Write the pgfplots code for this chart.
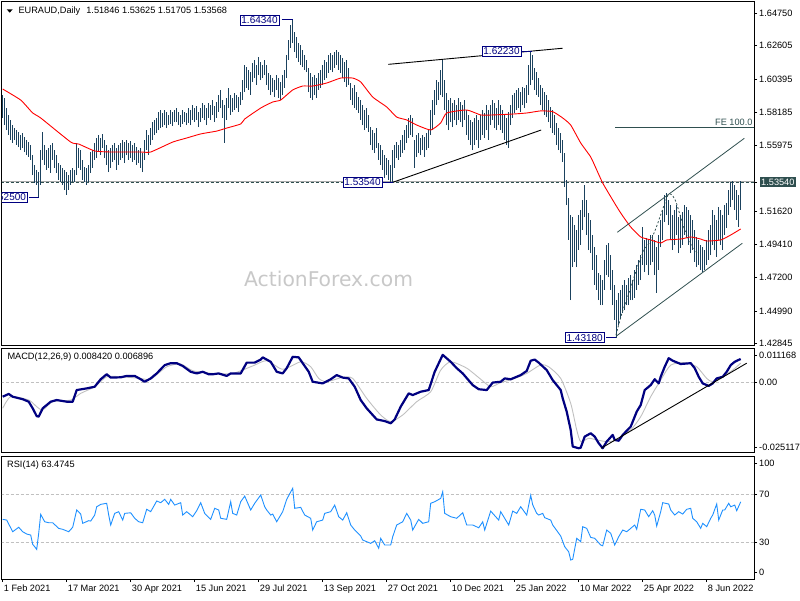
\documentclass[border=0pt]{standalone}
\usepackage{pgfplots}
\pgfplotsset{compat=1.18}
\usepackage{pgfplotstable}
\usepackage{fontspec}
\setmainfont{Liberation Sans}
\newfontfamily\dejavu{DejaVu Sans}
\definecolor{barc}{RGB}{27,66,94}
\definecolor{dslate}{RGB}{47,79,79}
\definecolor{navyc}{RGB}{0,0,128}
\definecolor{silverc}{RGB}{192,192,192}
\definecolor{rsic}{RGB}{30,144,255}
\definecolor{wm}{RGB}{200,200,200}
\definecolor{bidc}{RGB}{170,170,170}

\pgfplotstableread{
i h l
0 1.5933 1.5780
1 1.5913 1.5733
2 1.5846 1.5700
3 1.5800 1.5667
4 1.5767 1.5634
5 1.5733 1.5614
6 1.5713 1.5634
7 1.5700 1.5601
8 1.5687 1.5587
9 1.5667 1.5567
10 1.5680 1.5581
11 1.5654 1.5554
12 1.5634 1.5534
13 1.5620 1.5521
14 1.5601 1.5501
15 1.5534 1.5401
16 1.5468 1.5348
17 1.5435 1.5335
18 1.5421 1.5250
19 1.5567 1.5335
20 1.5687 1.5501
21 1.5601 1.5468
22 1.5567 1.5435
23 1.5581 1.5448
24 1.5601 1.5415
25 1.5614 1.5501
26 1.5567 1.5448
27 1.5534 1.5415
28 1.5481 1.5368
29 1.5468 1.5355
30 1.5448 1.5335
31 1.5435 1.5302
32 1.5421 1.5269
33 1.5401 1.5302
34 1.5435 1.5335
35 1.5448 1.5355
36 1.5435 1.5355
37 1.5614 1.5401
38 1.5581 1.5448
39 1.5567 1.5435
40 1.5501 1.5368
41 1.5454 1.5355
42 1.5448 1.5335
43 1.5468 1.5355
44 1.5554 1.5415
45 1.5567 1.5448
46 1.5614 1.5501
47 1.5647 1.5514
48 1.5667 1.5554
49 1.5647 1.5534
50 1.5674 1.5581
51 1.5634 1.5514
52 1.5601 1.5468
53 1.5567 1.5421
54 1.5581 1.5448
55 1.5601 1.5488
56 1.5614 1.5501
57 1.5581 1.5435
58 1.5601 1.5468
59 1.5614 1.5501
60 1.5634 1.5514
61 1.5620 1.5481
62 1.5634 1.5534
63 1.5614 1.5501
64 1.5627 1.5514
65 1.5601 1.5488
66 1.5614 1.5501
67 1.5587 1.5468
68 1.5567 1.5481
69 1.5581 1.5448
70 1.5547 1.5421
71 1.5634 1.5501
72 1.5700 1.5567
73 1.5667 1.5534
74 1.5713 1.5601
75 1.5753 1.5634
76 1.5767 1.5667
77 1.5780 1.5680
78 1.5820 1.5700
79 1.5833 1.5713
80 1.5813 1.5720
81 1.5833 1.5733
82 1.5820 1.5713
83 1.5800 1.5733
84 1.5833 1.5740
85 1.5820 1.5727
86 1.5833 1.5753
87 1.5846 1.5753
88 1.5820 1.5733
89 1.5800 1.5720
90 1.5833 1.5740
91 1.5820 1.5753
92 1.5813 1.5733
93 1.5846 1.5747
94 1.5833 1.5733
95 1.5866 1.5767
96 1.5846 1.5753
97 1.5860 1.5767
98 1.5820 1.5720
99 1.5846 1.5753
100 1.5879 1.5780
101 1.5866 1.5767
102 1.5846 1.5733
103 1.5879 1.5780
104 1.5866 1.5767
105 1.5899 1.5800
106 1.5860 1.5753
107 1.5886 1.5780
108 1.5933 1.5820
109 1.5966 1.5846
110 1.5899 1.5780
111 1.5866 1.5614
112 1.5913 1.5767
113 1.5979 1.5846
114 1.5933 1.5800
115 1.5913 1.5820
116 1.5946 1.5833
117 1.5933 1.5846
118 1.5919 1.5820
119 1.5952 1.5866
120 1.6032 1.5899
121 1.6132 1.5952
122 1.6118 1.5979
123 1.6099 1.5966
124 1.6085 1.5933
125 1.6145 1.6019
126 1.6165 1.6045
127 1.6132 1.5999
128 1.6185 1.6065
129 1.6152 1.6032
130 1.6132 1.6045
131 1.6165 1.6065
132 1.6132 1.5999
133 1.6079 1.5966
134 1.6065 1.5933
135 1.6045 1.5952
136 1.6032 1.5919
137 1.6065 1.5966
138 1.6045 1.5913
139 1.6019 1.5899
140 1.6065 1.5933
141 1.6099 1.5979
142 1.6198 1.6045
143 1.6298 1.6165
144 1.6397 1.6245
145 1.6434 1.6278
146 1.6351 1.6218
147 1.6318 1.6178
148 1.6278 1.6152
149 1.6265 1.6132
150 1.6231 1.6118
151 1.6198 1.6099
152 1.6165 1.6085
153 1.6112 1.5952
154 1.6079 1.5913
155 1.6052 1.5899
156 1.6065 1.5933
157 1.6045 1.5913
158 1.6079 1.5966
159 1.6099 1.5979
160 1.6132 1.5999
161 1.6165 1.6032
162 1.6152 1.6045
163 1.6198 1.6079
164 1.6211 1.6099
165 1.6198 1.6085
166 1.6218 1.6112
167 1.6231 1.6132
168 1.6218 1.6099
169 1.6198 1.6079
170 1.6178 1.6045
171 1.6152 1.6019
172 1.6165 1.5986
173 1.6112 1.5999
174 1.6012 1.5899
175 1.5979 1.5866
176 1.5999 1.5846
177 1.5952 1.5833
178 1.5919 1.5813
179 1.5899 1.5767
180 1.5866 1.5733
181 1.5833 1.5700
182 1.5846 1.5713
183 1.5800 1.5687
184 1.5720 1.5601
185 1.5700 1.5567
186 1.5680 1.5547
187 1.5713 1.5581
188 1.5614 1.5501
189 1.5601 1.5468
190 1.5567 1.5435
191 1.5534 1.5381
192 1.5514 1.5401
193 1.5501 1.5368
194 1.5468 1.5354
195 1.5567 1.5354
196 1.5601 1.5448
197 1.5620 1.5514
198 1.5601 1.5501
199 1.5634 1.5521
200 1.5667 1.5547
201 1.5700 1.5567
202 1.5733 1.5614
203 1.5780 1.5647
204 1.5800 1.5667
205 1.5780 1.5654
206 1.5634 1.5448
207 1.5667 1.5521
208 1.5680 1.5547
209 1.5647 1.5534
210 1.5667 1.5567
211 1.5654 1.5521
212 1.5680 1.5567
213 1.5700 1.5581
214 1.5833 1.5667
215 1.5899 1.5700
216 1.5966 1.5800
217 1.6032 1.5866
218 1.6019 1.5899
219 1.6099 1.5933
220 1.6172 1.5919
221 1.6032 1.5833
222 1.5946 1.5733
223 1.5899 1.5700
224 1.5913 1.5753
225 1.5879 1.5720
226 1.5899 1.5767
227 1.5866 1.5733
228 1.5913 1.5767
229 1.5886 1.5753
230 1.5866 1.5720
231 1.5899 1.5767
232 1.5833 1.5667
233 1.5800 1.5634
234 1.5767 1.5601
235 1.5753 1.5567
236 1.5780 1.5601
237 1.5800 1.5634
238 1.5767 1.5581
239 1.5800 1.5634
240 1.5833 1.5667
241 1.5813 1.5647
242 1.5866 1.5700
243 1.5833 1.5634
244 1.5866 1.5733
245 1.5899 1.5767
246 1.5879 1.5713
247 1.5846 1.5700
248 1.5899 1.5733
249 1.5866 1.5700
250 1.5833 1.5680
251 1.5800 1.5634
252 1.5780 1.5601
253 1.5820 1.5581
254 1.5866 1.5733
255 1.5933 1.5780
256 1.5946 1.5813
257 1.5966 1.5833
258 1.5979 1.5846
259 1.5952 1.5820
260 1.5986 1.5866
261 1.5979 1.5846
262 1.5999 1.5879
263 1.6132 1.5933
264 1.6223 1.5999
265 1.6198 1.6032
266 1.6112 1.5966
267 1.6085 1.5933
268 1.6045 1.5919
269 1.5999 1.5866
270 1.5979 1.5833
271 1.5952 1.5800
272 1.5933 1.5786
273 1.5899 1.5753
274 1.5853 1.5713
275 1.5833 1.5680
276 1.5800 1.5667
277 1.5747 1.5601
278 1.5713 1.5567
279 1.5680 1.5547
280 1.5634 1.5488
281 1.5547 1.5322
282 1.5368 1.5202
283 1.5249 1.4970
284 1.5136 1.4571
285 1.5122 1.4790
286 1.5069 1.4824
287 1.5036 1.4790
288 1.5136 1.4903
289 1.5169 1.4937
290 1.5235 1.5036
291 1.5335 1.5122
292 1.5235 1.5003
293 1.5149 1.4903
294 1.5103 1.4883
295 1.5003 1.4771
296 1.4923 1.4671
297 1.4870 1.4638
298 1.4751 1.4571
299 1.4737 1.4538
300 1.4704 1.4538
301 1.4837 1.4638
302 1.4937 1.4737
303 1.4950 1.4724
304 1.4870 1.4638
305 1.4771 1.4538
306 1.4671 1.4439
307 1.4571 1.4318
308 1.4618 1.4405
309 1.4638 1.4452
310 1.4671 1.4485
311 1.4704 1.4505
312 1.4671 1.4538
313 1.4717 1.4538
314 1.4737 1.4571
315 1.4704 1.4571
316 1.4771 1.4585
317 1.4804 1.4638
318 1.4837 1.4671
319 1.4870 1.4704
320 1.5056 1.4804
321 1.4970 1.4757
322 1.4983 1.4804
323 1.4970 1.4737
324 1.5003 1.4804
325 1.5003 1.4824
326 1.4970 1.4737
327 1.4923 1.4618
328 1.5003 1.4771
329 1.5103 1.4923
330 1.5169 1.4970
331 1.5269 1.5089
332 1.5282 1.5136
333 1.5235 1.5069
334 1.5202 1.4970
335 1.5136 1.4903
336 1.5169 1.4937
337 1.5202 1.5003
338 1.5122 1.4883
339 1.5136 1.4917
340 1.5156 1.4937
341 1.5202 1.5003
342 1.5189 1.4983
343 1.5169 1.4937
344 1.5136 1.4883
345 1.5103 1.4903
346 1.5036 1.4824
347 1.4990 1.4790
348 1.4970 1.4804
349 1.4937 1.4771
350 1.4923 1.4757
351 1.4903 1.4771
352 1.4970 1.4804
353 1.5036 1.4837
354 1.5069 1.4870
355 1.5169 1.4937
356 1.5136 1.4903
357 1.5103 1.4857
358 1.5189 1.4970
359 1.5169 1.4937
360 1.5136 1.4903
361 1.5202 1.5003
362 1.5215 1.5049
363 1.5302 1.5136
364 1.5355 1.5189
365 1.5362 1.5235
366 1.5335 1.5169
367 1.5302 1.5103
368 1.5269 1.5056
369 1.5363 1.5171
}\bars

\pgfplotstableread{
i v
0 1.5972
9 1.5899
15 1.5813
19 1.5780
34 1.5620
38 1.5607
46 1.5561
54 1.5554
69 1.5554
74 1.5554
85 1.5620
92 1.5647
99 1.5674
107 1.5693
112 1.5713
119 1.5740
121 1.5773
129 1.5846
135 1.5886
139 1.5899
145 1.5966
150 1.5992
155 1.5992
162 1.6012
169 1.6045
175 1.6045
179 1.6019
185 1.5919
192 1.5853
197 1.5786
202 1.5767
207 1.5733
214 1.5700
219 1.5747
222 1.5813
232 1.5833
239 1.5800
245 1.5800
255 1.5806
262 1.5813
269 1.5827
275 1.5822
280 1.5780
284 1.5733
289 1.5614
294 1.5521
297 1.5435
300 1.5348
305 1.5235
309 1.5149
314 1.5056
319 1.4990
324 1.4970
329 1.4950
332 1.4970
339 1.4976
344 1.4990
349 1.4976
352 1.4963
359 1.4970
364 1.5003
369 1.5043
}\ma

\pgfplotstableread{
i v
0 -0.0052
3 -0.0042
5 -0.0052
10 -0.0061
13 -0.0070
15 -0.0094
17 -0.0122
18 -0.0124
20 -0.0094
24 -0.0070
27 -0.0064
32 -0.0070
35 -0.0070
37 -0.0028
42 -0.0022
46 -0.0016
49 0.0011
52 0.0029
54 0.0017
59 0.0018
62 0.0023
66 0.0023
69 0.0011
71 0.0002
74 0.0014
77 0.0032
81 0.0062
84 0.0069
87 0.0069
90 0.0059
94 0.0038
97 0.0032
100 0.0038
103 0.0029
105 0.0029
108 0.0032
112 0.0023
114 0.0032
119 0.0032
122 0.0071
126 0.0071
129 0.0082
130 0.0090
134 0.0074
137 0.0038
140 0.0032
142 0.0051
145 0.0092
148 0.0090
150 0.0069
153 0.0038
155 0.0002
160 -0.0004
164 0.0011
167 0.0026
170 0.0017
173 0.0014
176 -0.0016
179 -0.0064
182 -0.0094
187 -0.0134
191 -0.0140
194 -0.0148
196 -0.0134
199 -0.0088
203 -0.0040
205 -0.0046
209 -0.0034
213 -0.0028
216 0.0038
220 0.0099
224 0.0074
227 0.0051
230 0.0032
235 -0.0010
238 -0.0025
242 -0.0028
245 -0.0001
249 0.0002
251 0.0014
254 0.0011
259 0.0026
262 0.0041
264 0.0078
266 0.0082
268 0.0071
272 0.0044
275 0.0008
279 -0.0028
280 -0.0058
282 -0.0106
284 -0.0172
285 -0.0232
288 -0.0238
289 -0.0236
291 -0.0196
294 -0.0184
296 -0.0196
298 -0.0220
300 -0.0238
302 -0.0214
305 -0.0190
306 -0.0208
308 -0.0211
310 -0.0190
314 -0.0160
317 -0.0106
319 -0.0082
321 -0.0028
324 -0.0010
326 0.0011
328 -0.0004
329 0.0020
331 0.0056
333 0.0087
335 0.0078
339 0.0066
344 0.0069
346 0.0051
348 0.0020
350 -0.0004
353 -0.0013
355 -0.0004
357 0.0014
360 0.0020
362 0.0038
364 0.0062
366 0.0074
368 0.0081
369 0.0084
}\macd

\pgfplotstableread{
i v
0 -0.0094
4 -0.0052
13 -0.0064
17 -0.0088
20 -0.0100
25 -0.0070
34 -0.0064
39 -0.0040
46 -0.0016
52 0.0020
59 0.0020
69 0.0014
74 0.0011
82 0.0056
89 0.0066
95 0.0042
105 0.0032
115 0.0032
125 0.0059
132 0.0078
140 0.0047
149 0.0074
154 0.0056
158 0.0014
162 0.0002
170 0.0018
175 0.0014
182 -0.0058
189 -0.0118
194 -0.0142
200 -0.0118
207 -0.0070
214 -0.0034
219 0.0044
224 0.0074
232 0.0051
239 0.0011
244 -0.0016
249 -0.0001
255 0.0011
262 0.0032
269 0.0063
273 0.0056
279 0.0014
284 -0.0076
287 -0.0172
289 -0.0214
293 -0.0202
297 -0.0208
302 -0.0214
307 -0.0208
314 -0.0172
319 -0.0124
324 -0.0052
329 0.0008
334 0.0062
341 0.0071
347 0.0056
352 0.0014
355 0.0002
360 0.0020
365 0.0044
369 0.0069
}\signal

\pgfplotstableread{
i v
0 48.9
2 48.3
5 38.6
8 42.3
10 38.6
12 36.7
14 35.8
15 28.1
16 26.1
17 23.9
18 37.3
19 53.1
21 46.9
23 46.1
25 46.1
28 41.4
30 40.6
33 38.6
35 42.3
37 56.7
39 53.3
40 45.6
43 47.8
44 47.5
46 52.5
47 59.4
49 61.4
52 62.3
53 52.5
54 44.2
56 53.9
58 55.3
60 48.3
61 53.9
64 54.4
66 49.8
68 46.9
70 46.1
72 57.3
74 55.3
77 64.2
79 62.8
81 65.6
83 61.4
84 65.6
86 60.8
89 62.8
90 52.5
92 55.3
95 51.1
97 56.1
99 62.8
101 53.9
104 48.9
106 58.1
108 56.7
109 49.8
112 48.9
114 63.6
115 53.9
117 52.5
119 63.6
121 68.3
124 56.7
126 62.3
129 69.2
131 59.4
132 56.7
134 52.5
135 53.3
137 46.9
140 55.3
142 65.6
145 74.8
146 58.1
149 58.9
151 52.5
154 49.8
155 40.0
157 46.9
160 48.3
161 53.9
164 55.3
166 60.8
168 51.1
170 48.3
172 54.4
174 44.2
176 40.0
179 35.0
180 31.7
184 28.9
186 31.1
188 24.8
189 33.1
191 27.5
194 27.5
195 34.4
197 44.2
200 46.9
202 53.9
204 48.3
205 40.0
208 48.9
210 45.6
213 46.9
214 62.3
216 63.6
219 66.4
220 71.9
221 53.9
224 51.1
227 49.8
230 54.4
232 44.2
235 44.2
238 41.9
240 46.9
241 40.0
244 55.8
245 53.9
248 48.3
249 55.3
253 44.2
255 55.8
257 53.9
259 59.4
262 52.5
264 69.0
265 61.0
267 53.9
268 52.5
270 53.9
271 50.3
274 48.3
275 44.2
278 37.3
279 35.0
281 26.1
283 21.9
284 15.0
285 15.6
287 33.1
289 30.3
290 42.8
292 41.4
294 33.9
296 33.1
299 27.5
300 26.9
302 40.0
304 37.3
306 27.5
308 34.4
310 40.0
312 38.6
315 42.8
316 44.2
317 40.6
319 57.3
321 56.7
323 51.1
325 56.1
326 52.5
327 43.3
329 55.3
330 62.8
333 61.7
334 56.7
336 52.5
338 55.3
340 53.3
342 57.3
344 58.1
345 49.8
347 46.9
349 41.4
350 45.6
352 42.8
354 49.8
355 52.5
357 61.7
358 48.3
360 56.7
361 56.7
363 62.3
364 59.4
366 60.8
367 56.1
369 63.5
}\rsi

\pgfplotsset{
  mt4/.style={
    scale only axis, anchor=south west, width=752pt,
    xmin=-0.35, xmax=375.65,
    axis line style={line width=1pt, black},
    tick align=outside, major tick length=3pt,
    tick style={black, line width=0.6pt},
    ytick pos=right, yticklabel pos=right,
    xtick=\empty,
    scaled y ticks=false,
    every tick label/.append style={font=\fontsize{9.2}{11}\selectfont},
    yticklabel style={anchor=west, inner sep=0pt, xshift=2pt},
  },
}
\tikzset{
  lbl/.style={draw=navyc, fill=white, text=navyc, font=\fontsize{10}{12}\selectfont, inner xsep=1.5pt, inner ysep=1.5pt, line width=0.8pt},
}

\begin{document}
\begin{tikzpicture}[x=1pt,y=1pt]
\path (0,0) rectangle (800,600);
% watermark
\node[anchor=base west, inner sep=0pt, text=wm, font=\dejavu\fontsize{20.3}{24}\selectfont] at (244,313) {ActionForex.com};

% ---------------- main price panel
\begin{axis}[mt4, at={(2pt,254pt)}, height=344pt,
  ymin=1.4266, ymax=1.6550,
  ytick={1.42845,1.4499,1.472,1.4941,1.5162,1.55975,1.58185,1.60395,1.62605,1.6475},
  yticklabels={1.42845,1.44990,1.47200,1.49410,1.51620,1.55975,1.58185,1.60395,1.62605,1.64750},
  extra y ticks={1.5354}, extra y tick labels={1.53540},
  extra y tick style={yticklabel style={fill=dslate, text=white, inner sep=1.5pt, xshift=0.5pt}},
]
\addplot[bidc, line width=0.8pt, forget plot] coordinates {(-1,1.53568) (376,1.53568)};
\addplot[dslate, line width=0.8pt, dash pattern=on 3pt off 2pt, forget plot] coordinates {(-1,1.5354) (376,1.5354)};
\addplot[draw=none, mark=none, forget plot,
  error bars/.cd, y dir=plus, y explicit, error mark=none,
  error bar style={draw=barc, line width=1pt}]
  table[x=i, y=l, y error expr=\thisrow{h}-\thisrow{l}] {\bars};
\addplot[red, line width=0.9pt, smooth, tension=0.3] table[x=i, y=v] {\ma};
% trend lines
\addplot[black, line width=0.9pt] coordinates {(192.8,1.6136) (280,1.6243)};
\addplot[black, line width=0.9pt] coordinates {(195.3,1.5354) (269.2,1.5700)};
\addplot[dslate, line width=0.8pt] coordinates {(306.6,1.4330) (369.8,1.4948)};
\addplot[dslate, line width=0.8pt] coordinates {(307.3,1.5021) (370.8,1.5645)};
\addplot[dslate, line width=0.8pt] coordinates {(306.2,1.5720) (376,1.5720)};
\addplot[dslate, line width=0.8pt, dash pattern=on 2pt off 2pt, smooth, tension=0.4] coordinates {
  (306.65,1.4339) (309.65,1.4485) (313.65,1.4638) (317.15,1.4784) (320.65,1.4903)
  (323.65,1.4956) (326.65,1.5049) (329.65,1.5162) (332.65,1.5269) (334.65,1.5269)
  (336.65,1.5222) (338.65,1.5136) (340.65,1.5049) (342.65,1.4983) (345.15,1.4923) (347.15,1.4883)};
\node[anchor=base east, inner sep=0pt, text=dslate, font=\fontsize{9.2}{11}\selectfont] at (axis cs:375,1.5731) {FE 100.0};
% price labels
\addplot[navyc, line width=0.8pt] coordinates {(139.5,1.6434) (145,1.6434)};
\node[lbl] at (axis cs:128.4,1.6430) {1.64340};
\addplot[navyc, line width=0.8pt] coordinates {(259.5,1.6223) (264.5,1.6223)};
\node[lbl] at (axis cs:249.4,1.6223) {1.62230};
\addplot[navyc, line width=0.8pt] coordinates {(190.3,1.5354) (195.3,1.5354)};
\node[lbl] at (axis cs:179.9,1.5354) {1.53540};
\addplot[navyc, line width=0.8pt] coordinates {(301.7,1.4325) (306.7,1.4325)};
\node[lbl] at (axis cs:291,1.4322) {1.43180};
\addplot[navyc, line width=0.8pt] coordinates {(13.3,1.5250) (18.3,1.5250)};
\node[lbl] at (axis cs:2.6,1.5252) {1.52500};
\end{axis}

% ---------------- MACD panel
\begin{axis}[mt4, at={(2pt,148pt)}, height=103pt,
  ymin=-0.02516, ymax=0.01202,
  ytick={-0.0236,0,0.0096}, yticklabels={-0.025117,0.00,0.011168},
]
\addplot[silverc, line width=0.8pt, dash pattern=on 3pt off 2pt] coordinates {(-1,0) (376,0)};
\addplot[silverc, line width=0.9pt, smooth, tension=0.4] table[x=i, y=v] {\signal};
\addplot[navyc, line width=2.2pt, line join=round] table[x=i, y=v] {\macd};
\addplot[black, line width=0.9pt] coordinates {(299.2,-0.0238) (372,0.0069)};
\end{axis}

% ---------------- RSI panel
\begin{axis}[mt4, at={(2pt,21pt)}, height=123pt,
  ymin=-0.8, ymax=101.7,
  ytick={5,30,70,95.8}, yticklabels={0,30,70,100},
  xtick={0,32,64,96,128,160,192,224,256,288,320,352},
  xticklabels={1 Feb 2021,17 Mar 2021,30 Apr 2021,15 Jun 2021,29 Jul 2021,13 Sep 2021,27 Oct 2021,10 Dec 2021,25 Jan 2022,10 Mar 2022,25 Apr 2022,8 Jun 2022},
  xtick pos=bottom,
  xticklabel style={anchor=base west, inner sep=0pt, xshift=1pt, yshift=-9pt},
]
\addplot[silverc, line width=0.8pt, dash pattern=on 3pt off 2pt] coordinates {(-1,70) (376,70)};
\addplot[silverc, line width=0.8pt, dash pattern=on 3pt off 2pt] coordinates {(-1,30) (376,30)};
\addplot[rsic, line width=0.9pt] table[x=i, y=v] {\rsi};
\end{axis}

% titles
\fill[black] (6.7,590.7) -- (12.7,590.7) -- (9.7,587.3) -- cycle;
\node[anchor=west, inner sep=0pt, font=\fontsize{9.2}{11}\selectfont] at (18.3,589) {EURAUD,Daily\hspace{6pt}1.51846 1.53625 1.51705 1.53568};
\node[anchor=west, inner sep=0pt, font=\fontsize{9.2}{11}\selectfont] at (7.3,243) {MACD(12,26,9) 0.008420 0.006896};
\node[anchor=west, inner sep=0pt, font=\fontsize{9.2}{11}\selectfont] at (7,135) {RSI(14) 63.4745};
\end{tikzpicture}
\end{document}
